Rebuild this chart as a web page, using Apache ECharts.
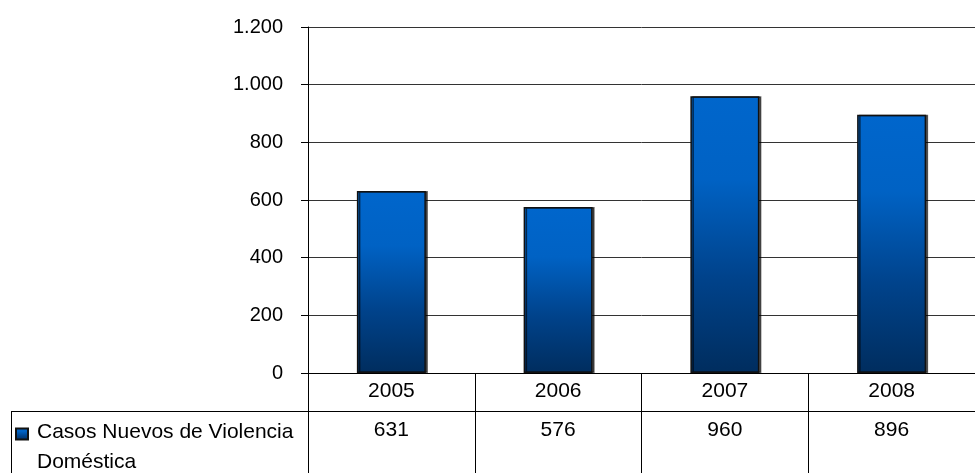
<!DOCTYPE html>
<html>
<head>
<meta charset="utf-8">
<script src="https://cdn.jsdelivr.net/npm/echarts@6/dist/echarts.min.js"></script>
<style>
html,body{margin:0;padding:0;background:#fff;}
#chart{width:975px;height:473px;}
</style>
</head>
<body>
<div id="chart"></div>
<script>
var categories = ['2005', '2006', '2007', '2008'];
var values = [631, 576, 960, 896];
var seriesName = 'Casos Nuevos de Violencia Doméstica';
var yTicks = [0, 200, 400, 600, 800, 1000, 1200];

var FONT = "'Liberation Sans', Arial, sans-serif";
function fmtThousands(v) {
  return String(v).replace(/\B(?=(\d{3})+(?!\d))/g, '.');
}

var chart = echarts.init(document.getElementById('chart'));
var gradient = new echarts.graphic.LinearGradient(0, 0, 0, 1, [
  {offset: 0, color: '#0066CC'},
  {offset: 0.3, color: '#0062C4'},
  {offset: 0.65, color: '#00438C'},
  {offset: 1, color: '#002D5E'}
]);

chart.setOption({
  animation: false,
  backgroundColor: '#fff',
  textStyle: {fontFamily: FONT},
  grid: {left: 308, top: 27, width: 684, height: 346},
  legend: {
    left: 15, top: 391, padding: 0,
    icon: 'rect',
    itemWidth: 12, itemHeight: 11,
    data: [seriesName],
    formatter: function () { return '{sp| }\n{t|Casos Nuevos de Violencia}\n{t|Doméstica}'; },
    textStyle: {
      fontSize: 21, color: '#000', fontFamily: FONT, lineHeight: 30, padding: [0, 0, 0, 4],
      rich: {
        sp: {fontSize: 10, lineHeight: 26, height: 26},
        t: {fontSize: 21, lineHeight: 30, color: '#000', fontFamily: FONT}
      }
    }
  },
  xAxis: [{
    type: 'category',
    data: categories,
    position: 'bottom',
    axisLine: {show: true, lineStyle: {color: '#000', width: 1}},
    axisTick: {show: true, length: 100, inside: false, lineStyle: {color: '#000', width: 1}},
    axisLabel: {fontSize: 21, color: '#000', margin: 8, fontFamily: FONT, interval: 0},
    splitLine: {show: false}
  }, {
    type: 'category',
    data: categories,
    position: 'bottom',
    offset: 38,
    axisLine: {show: true, lineStyle: {color: '#000', width: 1}},
    axisTick: {show: false},
    axisLabel: {
      fontSize: 21, color: '#000', margin: 9, fontFamily: FONT, interval: 0,
      formatter: function (v, i) { return String(values[i]); }
    },
    splitLine: {show: false}
  }],
  yAxis: {
    type: 'value',
    min: yTicks[0], max: yTicks[yTicks.length - 1], interval: 200,
    axisLine: {show: true, lineStyle: {color: '#000', width: 1}},
    axisTick: {show: true, length: 7, lineStyle: {color: '#000'}},
    axisLabel: {fontSize: 20, color: '#000', margin: 25, fontFamily: FONT, formatter: fmtThousands},
    splitLine: {show: true, lineStyle: {color: '#333', width: 1}}
  },
  series: [{
    name: seriesName,
    type: 'bar',
    xAxisIndex: 0,
    data: values,
    barWidth: 69,
    itemStyle: {
      color: gradient,
      borderColor: '#111',
      borderWidth: 1.5,
      shadowColor: 'rgba(0,0,0,0.6)',
      shadowOffsetX: 2,
      shadowOffsetY: 0,
      shadowBlur: 0
    }
  }],
  graphic: [
    {type: 'line', silent: true, shape: {x1: 11, y1: 411.5, x2: 308, y2: 411.5}, style: {stroke: '#000', lineWidth: 1}},
    {type: 'line', silent: true, shape: {x1: 11.5, y1: 411, x2: 11.5, y2: 473}, style: {stroke: '#000', lineWidth: 1}}
  ]
});
</script>
</body>
</html>
